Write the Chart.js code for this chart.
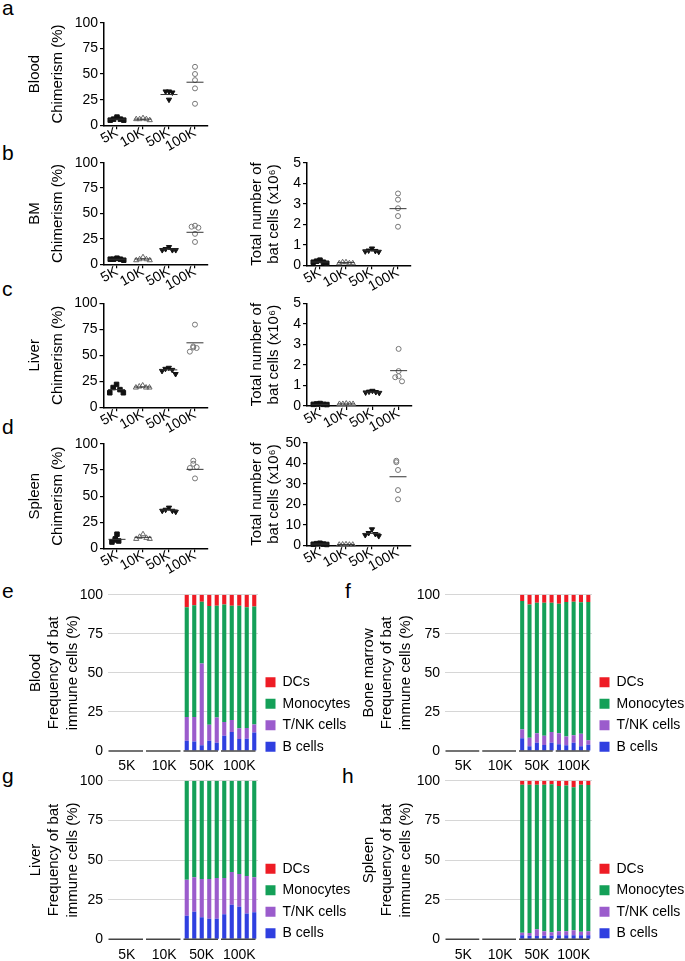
<!DOCTYPE html>
<html><head><meta charset="utf-8">
<script src="https://cdn.jsdelivr.net/npm/chart.js@4.4.1/dist/chart.umd.min.js"></script>
<style>
html,body{margin:0;padding:0;background:#fff;}
body{width:685px;height:961px;position:relative;overflow:hidden;font-family:"Liberation Sans",Arial,sans-serif;}
canvas{position:absolute;}
.lbl{position:absolute;font-size:21px;line-height:21px;color:#000;}
</style></head><body>
<div class="lbl" style="left:2px;top:-3px">a</div>
<div class="lbl" style="left:2px;top:142px">b</div>
<div class="lbl" style="left:2px;top:278px">c</div>
<div class="lbl" style="left:2px;top:416px">d</div>
<div class="lbl" style="left:2px;top:580px">e</div>
<div class="lbl" style="left:345px;top:580px">f</div>
<div class="lbl" style="left:2px;top:765px">g</div>
<div class="lbl" style="left:342px;top:765px">h</div>
<script>
// ---------- data ----------
const groups = ['5K', '10K', '50K', '100K'];

// Chimerism (%) per group, per mouse
const bloodChim = [[8, 6, 6, 5, 5], [7, 6, 6, 5, 6], [33, 33, 32, 25], [57, 50, 44, 36, 21]];
const bloodChimMean = [6, 6, 30, 42];
const bmChim = [[6, 5, 5, 5, 4], [7, 5, 5, 4, 4], [17, 15, 14, 14, 14], [38, 37, 36, 30, 22]];
const bmChimMean = [5, 5.2, 15, 31.5];
const liverChim = [[22, 19, 17, 14, 14], [21, 20, 19, 19, 19], [38, 37, 36, 35, 32], [79.5, 58.5, 57.5, 57, 53.5]];
const liverChimMean = [17, 19.5, 36, 62];
const spleenChim = [[13.5, 9, 8, 7, 6], [13.5, 11, 10, 9, 9], [39, 37, 36, 36, 35], [84, 81, 78, 77, 67]];
const spleenChimMean = [8.6, 10.5, 36.7, 75.7];

// Total number of bat cells (x10^6)
const bmTotal = [[0.25, 0.2, 0.15, 0.15, 0.1], [0.15, 0.15, 0.1, 0.1, 0.1], [0.82, 0.72, 0.7, 0.68, 0.66], [3.5, 3.2, 2.78, 2.4, 1.88]];
const bmTotalMean = [0.16, 0.13, 0.71, 2.76];
const liverTotal = [[0.12, 0.1, 0.08, 0.08, 0.07], [0.12, 0.1, 0.1, 0.1, 0.1], [0.74, 0.7, 0.68, 0.66, 0.64], [2.78, 1.7, 1.45, 1.4, 1.2]];
const liverTotalMean = [0.08, 0.1, 0.68, 1.72];
const spleenTotal = [[1, 0.8, 0.6, 0.5, 0.4], [0.5, 0.4, 0.3, 0.3, 0.3], [7.8, 6, 5.5, 5, 4.5], [41.2, 40.5, 36.7, 26.9, 22.4]];
const spleenTotalMean = [0.6, 0.35, 5.8, 33.4];

// Immune cell frequencies (%) for the 10 mice with bat cells (5 x 50K, 5 x 100K)
const cellTypes = ['B cells', 'T/NK cells', 'Monocytes', 'DCs'];
const bloodB    = [6.6, 6.0, 3.6, 6.6, 5.3, 9.8, 12.2, 7.7, 7.9, 11.9];
const bloodTNK  = [15.1, 15.7, 52.4, 10.2, 16.2, 8.7, 7.6, 6.8, 6.8, 5.1];
const bloodMono = [70.2, 71.5, 39.5, 75.9, 71.5, 75.3, 73.2, 78.5, 77.2, 75.5];
const bloodDC   = [8.1, 6.8, 4.5, 7.3, 7.0, 6.2, 7.0, 7.0, 8.1, 7.5];
const bmB    = [8.1, 3.0, 5.3, 3.8, 5.3, 4.3, 3.6, 5.3, 3.0, 4.0];
const bmTNK  = [5.8, 5.5, 6.0, 6.0, 6.9, 7.0, 5.6, 4.7, 8.1, 2.8];
const bmMono = [82.1, 85.3, 83.6, 85.1, 82.7, 82.9, 86.1, 85.5, 84.0, 88.5];
const bmDC   = [4.0, 6.2, 5.1, 5.1, 5.1, 5.8, 4.7, 4.5, 4.9, 4.7];
const liverB    = [14.9, 17.4, 13.9, 13.0, 13.0, 15.8, 21.8, 20.6, 16.2, 17.0];
const liverTNK  = [22.7, 21.7, 24.1, 25.0, 25.7, 22.9, 20.6, 20.6, 23.7, 22.1];
const liverMono = [62.4, 60.9, 62.0, 62.0, 61.3, 61.3, 57.6, 58.8, 60.1, 60.9];
const liverDC   = [0, 0, 0, 0, 0, 0, 0, 0, 0, 0];
const spleenB    = [2.5, 2.3, 2.1, 2.3, 2.3, 2.5, 2.5, 2.5, 2.5, 2.5];
const spleenTNK  = [1.7, 1.7, 4.2, 2.7, 2.1, 2.5, 2.5, 3.2, 2.3, 2.5];
const spleenMono = [93.3, 93.5, 91.2, 92.5, 93.3, 91.6, 92.0, 90.1, 92.7, 92.3];
const spleenDC   = [2.5, 2.5, 2.5, 2.5, 2.3, 3.4, 3.0, 4.2, 2.5, 2.7];
const miceWithoutCells = 10; // 5K and 10K groups: no bat immune cells
const miceFor = 5;

// ---------- styling ----------
Chart.defaults.font.family = '"Liberation Sans", Arial, sans-serif';
Chart.defaults.color = '#000';
const cellColors = ['#2f3fe0', '#9b5ccc', '#14a058', '#ee1c25'];
const markerStyles = [
  {pointStyle: 'rect', backgroundColor: '#111', borderColor: '#111', pointRadius: 3.2, rotation: 0},
  {pointStyle: 'triangle', backgroundColor: 'rgba(0,0,0,0)', borderColor: '#666', pointRadius: 3.0, rotation: 0},
  {pointStyle: 'triangle', backgroundColor: '#111', borderColor: '#111', pointRadius: 3.0, rotation: 180},
  {pointStyle: 'circle', backgroundColor: 'rgba(0,0,0,0)', borderColor: '#777', pointRadius: 2.5, rotation: 0}
];

function makeCanvas(x, y, w, h) {
  const c = document.createElement('canvas');
  c.width = w; c.height = h;
  c.style.left = x + 'px'; c.style.top = y + 'px';
  c.style.width = w + 'px'; c.style.height = h + 'px';
  document.body.appendChild(c);
  return c;
}
function zeroPad(s) { s.paddingLeft = 0; s.paddingRight = 0; s.paddingTop = 0; s.paddingBottom = 0; }

// beeswarm-style horizontal spread for points of similar value (layout only)
function jitter(vals, yMax) {
  const idx = vals.map((v, i) => i).sort((a, b) => vals[b] - vals[a]);
  const thr = yMax * 0.045;
  const offs = new Array(vals.length).fill(0);
  const order = [0, -1, 1, -2, 2, -3, 3];
  let cl = [idx[0]];
  const flush = () => {
    const k = cl.length;
    const shift = (k % 2 === 0) ? 0.5 : 0;
    cl.forEach((id, j) => offs[id] = (order[j] + (order[j] < 0 ? shift : -shift) * (k > 1 ? 1 : 0)) * 0.13);
  };
  for (let j = 1; j < idx.length; j++) {
    if (vals[cl[cl.length - 1]] - vals[idx[j]] < thr) cl.push(idx[j]); else { flush(); cl = [idx[j]]; }
  }
  flush();
  return offs;
}

function scatterPanel(area, titleLines, titleCenterX, lh, yMax, yStep, series, means) {
  const bx = Math.round(titleCenterX - lh * 15 / 2);
  const by = Math.round(area.t - 14);
  const br = Math.round(area.r + 20);
  const bb = Math.round(area.b + 34);
  const yW = area.l - bx, xH = bb - area.b;
  const c = makeCanvas(bx, by, br - bx, bb - by);
  const datasets = [{
    data: means.map((m, i) => ({x: i, y: m})),
    pointStyle: 'line', pointRadius: 8.5, borderColor: '#333', borderWidth: 1, clip: false
  }];
  series.forEach((vals, gi) => {
    const offs = jitter(vals, yMax);
    const st = markerStyles[gi];
    datasets.push({
      data: vals.map((v, k) => ({x: gi + offs[k], y: v})),
      pointStyle: st.pointStyle, pointRadius: st.pointRadius, rotation: st.rotation,
      backgroundColor: st.backgroundColor, borderColor: st.borderColor, borderWidth: 1, clip: false
    });
  });
  new Chart(c, {
    type: 'scatter',
    data: {datasets},
    options: {
      responsive: false, animation: false, devicePixelRatio: 1,
      layout: {padding: {left: 0, top: area.t - by, right: br - area.r, bottom: 0}},
      plugins: {legend: {display: false}, tooltip: {enabled: false}},
      scales: {
        x: {
          type: 'linear', min: -0.5, max: 3.5,
          afterBuildTicks: s => { s.ticks = groups.map((g, i) => ({value: i})); },
          ticks: {callback: v => groups[v], font: {size: 14}, color: '#000', minRotation: 30, maxRotation: 30, padding: -5, autoSkip: false},
          grid: {drawOnChartArea: false, drawTicks: true, tickLength: 4, color: '#000', lineWidth: 1.2},
          border: {color: '#000', width: 1.5},
          afterFit: s => { s.height = xH; zeroPad(s); }
        },
        y: {
          min: 0, max: yMax,
          ticks: {stepSize: yStep, font: {size: 14}, color: '#000', padding: 2},
          grid: {drawOnChartArea: false, tickLength: 4, color: '#000', lineWidth: 1.2},
          border: {color: '#000', width: 1.5},
          title: {display: true, text: titleLines, font: {size: 15, lineHeight: lh}, color: '#000', padding: 0},
          afterFit: s => { s.width = yW; zeroPad(s); }
        }
      }
    }
  });
}

const groupLines = {
  id: 'groupLines',
  afterLayout(chart) {
    // let the category labels draw below the (short) axis box
    const s = chart.scales.x; s.bottom = s.top + 30;
  },
  afterDraw(chart) {
    const xs = chart.scales.x, ctx = chart.ctx, y = chart.chartArea.bottom;
    const slot = xs.getPixelForValue(1) - xs.getPixelForValue(0);
    ctx.save(); ctx.strokeStyle = '#444'; ctx.lineWidth = 1.6;
    groups.forEach((g, gi) => {
      const a = xs.getPixelForValue(gi * miceFor) - slot / 2 + 0.5;
      const b = xs.getPixelForValue(gi * miceFor + miceFor - 1) + slot / 2 - 2.5;
      ctx.beginPath(); ctx.moveTo(a, y); ctx.lineTo(b, y); ctx.stroke();
    });
    ctx.restore();
  }
};

function barPanel(area, legendBottom, titleLines, firstCenterX, segs) {
  const lh = 1.25;
  const legendW = 100;
  const bx = Math.round(firstCenterX - lh * 15 / 2);
  const by = Math.round(area.t - 14);
  const br = Math.round(area.r + legendW + 2);
  const bb = Math.min(961, Math.round(legendBottom + 18));
  const yW = area.l - bx, xH = legendBottom - area.b;
  const c = makeCanvas(bx, by, br - bx, bb - by);
  const categories = groups.flatMap(g => Array.from({length: miceFor}, (_, i) => g + '-' + (i + 1)));
  const datasets = segs.map((vals, si) => ({
    label: cellTypes[si],
    data: new Array(miceWithoutCells).fill(null).concat(vals),
    backgroundColor: cellColors[si], borderWidth: 0,
    barPercentage: 0.55, categoryPercentage: 1.0
  }));
  new Chart(c, {
    type: 'bar',
    data: {labels: categories, datasets},
    options: {
      responsive: false, animation: false, devicePixelRatio: 1,
      layout: {padding: {left: 0, top: area.t - by, right: br - area.r - legendW, bottom: bb - legendBottom}},
      plugins: {
        tooltip: {enabled: false},
        legend: {display: true, position: 'right', align: 'end', reverse: true, fullSize: true, maxWidth: legendW,
          labels: {boxWidth: 10, boxHeight: 10, padding: 7.5, font: {size: 14}, color: '#000'}}
      },
      scales: {
        x: {
          stacked: true,
          grid: {display: false, drawTicks: false}, border: {display: false},
          ticks: {autoSkip: false, maxRotation: 0, minRotation: 0, font: {size: 14}, color: '#000', padding: 7,
            callback: (v, i) => (i % miceFor === 2 ? groups[Math.floor(i / miceFor)] : '')},
          afterFit: s => { s.height = xH; zeroPad(s); }
        },
        y: {
          stacked: true, min: 0, max: 100,
          ticks: {stepSize: 25, font: {size: 14}, color: '#000', padding: 5},
          grid: {drawTicks: false, lineWidth: 1, color: ctx => (ctx.tick && ctx.tick.value === 0 ? 'rgba(0,0,0,0)' : '#d6d6d6')},
          border: {display: false},
          title: {display: true, text: titleLines, font: {size: 15, lineHeight: lh}, color: '#000', padding: 0},
          afterFit: s => { s.width = yW; zeroPad(s); }
        }
      }
    },
    plugins: [groupLines]
  });
}

// ---------- panels ----------
const chimTitle = organ => [organ, 'Chimerism (%)'];
const totalTitle = ['Total number of', 'bat cells (x10\u2076)'];

scatterPanel({l: 104, t: 22.7, r: 208, b: 125.3}, chimTitle('Blood'), 35, 1.5, 100, 25, bloodChim, bloodChimMean);
scatterPanel({l: 104, t: 162.7, r: 208, b: 264.3}, chimTitle('BM'), 35, 1.5, 100, 25, bmChim, bmChimMean);
scatterPanel({l: 307, t: 162.7, r: 411, b: 265.3}, totalTitle, 257, 1.1, 5, 1, bmTotal, bmTotalMean);
scatterPanel({l: 103.5, t: 303.3, r: 208, b: 407.3}, chimTitle('Liver'), 35, 1.5, 100, 25, liverChim, liverChimMean);
scatterPanel({l: 307, t: 303.3, r: 411.7, b: 406}, totalTitle, 257, 1.1, 5, 1, liverTotal, liverTotalMean);
scatterPanel({l: 104, t: 444, r: 208, b: 548.3}, chimTitle('Spleen'), 35, 1.5, 100, 25, spleenChim, spleenChimMean);
scatterPanel({l: 307, t: 442.7, r: 411, b: 545.3}, totalTitle, 257, 1.1, 50, 10, spleenTotal, spleenTotalMean);

const freqTitle = organ => [organ, 'Frequency of bat', 'immune cells (%)'];
barPanel({l: 108, t: 594.7, r: 258, b: 751}, 761.2, freqTitle('Blood'), 35, [bloodB, bloodTNK, bloodMono, bloodDC]);
barPanel({l: 445, t: 594.7, r: 592, b: 751}, 761.2, freqTitle('Bone marrow'), 368.3, [bmB, bmTNK, bmMono, bmDC]);
barPanel({l: 108, t: 780.7, r: 258, b: 939.3}, 947.8, freqTitle('Liver'), 35, [liverB, liverTNK, liverMono, liverDC]);
barPanel({l: 445, t: 780.7, r: 592, b: 939.3}, 947.8, freqTitle('Spleen'), 368.3, [spleenB, spleenTNK, spleenMono, spleenDC]);
</script>
</body></html>
